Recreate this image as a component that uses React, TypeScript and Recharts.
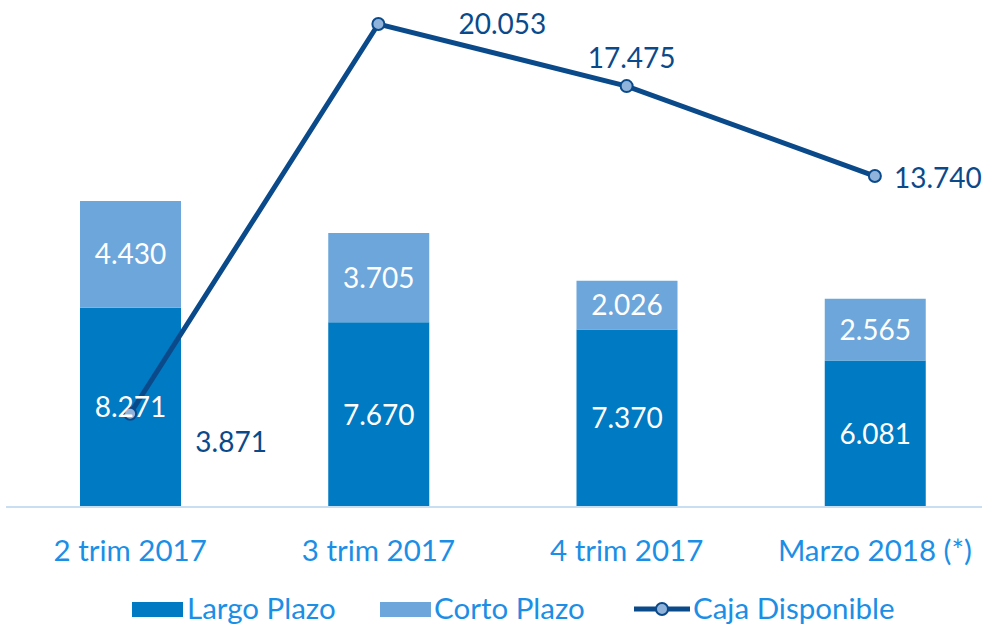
import { ComposedChart, Bar, Line, XAxis, YAxis, LabelList, Legend } from 'recharts';

const periods = ['2 trim 2017', '3 trim 2017', '4 trim 2017', 'Marzo 2018 (*)'];
const largoPlazo = [8271, 7670, 7370, 6081];
const cortoPlazo = [4430, 3705, 2026, 2565];
const cajaDisponible = [3871, 20053, 17475, 13740];

const data = periods.map((name, i) => ({
  name,
  largo: largoPlazo[i],
  corto: cortoPlazo[i],
  caja: cajaDisponible[i],
}));

// where the line labels sit relative to their point
const lineLabelOffsets = [
  { dx: 101, dy: 27 },
  { dx: 124, dy: -1 },
  { dx: 5, dy: -29 },
  { dx: 63, dy: 1 },
];

const DARK = '#0B4A8A';
const LARGO = '#007AC2';
const CORTO = '#6DA6DB';
const TICK = '#1B8FE6';
const FONT = 'Lato, "Open Sans", sans-serif';

const fmt = (v: number) => {
  const s = String(Math.round(v));
  return s.replace(/\B(?=(\d{3})+(?!\d))/g, '.');
};

const LineLabel = (props: any) => {
  const { x, y, value, index } = props;
  const o = lineLabelOffsets[index] || { dx: 0, dy: -20 };
  return (
    <text
      x={x + o.dx}
      y={y + o.dy}
      textAnchor="middle"
      dominantBaseline="central"
      fill={DARK}
      fontSize={28}
      fontFamily={FONT}
    >
      {fmt(value)}
    </text>
  );
};

const LegendContent = () => {
  const textStyle = { position: 'absolute' as const, top: 15, fontSize: 29.5, color: TICK, fontFamily: FONT, lineHeight: '32px' };
  return (
    <div style={{ position: 'relative', width: 1000, height: 49 }}>
      <div style={{ position: 'absolute', left: 132, top: 25, width: 51, height: 15, background: LARGO }} />
      <span style={{ ...textStyle, left: 187 }}>Largo Plazo</span>
      <div style={{ position: 'absolute', left: 380, top: 25, width: 51, height: 15, background: CORTO }} />
      <span style={{ ...textStyle, left: 434 }}>Corto Plazo</span>
      <svg style={{ position: 'absolute', left: 632, top: 22 }} width={60} height={20}>
        <line x1={2} y1={10} x2={58} y2={10} stroke={DARK} strokeWidth={5} />
        <circle cx={30} cy={10} r={6} fill="#8FB3DA" stroke={DARK} strokeWidth={2} />
      </svg>
      <span style={{ ...textStyle, left: 693 }}>Caja Disponible</span>
    </div>
  );
};

export default function App() {
  return (
    <div style={{ width: 982, height: 626, overflow: 'hidden', position: 'relative', background: '#fff' }}>
      <style>{'body{margin:0}'}</style>
      <ComposedChart
        width={1000}
        height={626}
        data={data}
        margin={{ top: 0, right: 1, bottom: 0, left: 6 }}
        barSize={101}
      >
        <XAxis
          dataKey="name"
          axisLine={{ stroke: '#C9DEF1', strokeWidth: 2 }}
          tickLine={false}
          height={70}
          tickMargin={27}
          interval={0}
          tick={{ fill: TICK, fontSize: 29.5, fontFamily: FONT }}
        />
        <YAxis hide domain={[0, 21050]} />
        <Legend verticalAlign="bottom" height={49} content={<LegendContent />} wrapperStyle={{ left: 0, width: 1000 }} />
        <Bar dataKey="largo" stackId="a" fill={LARGO} isAnimationActive={false} name="Largo Plazo">
          <LabelList dataKey="largo" position="center" fill="#fff" fontSize={28} fontFamily={FONT} formatter={(v: any) => fmt(Number(v))} />
        </Bar>
        <Bar dataKey="corto" stackId="a" fill={CORTO} isAnimationActive={false} name="Corto Plazo">
          <LabelList dataKey="corto" position="center" fill="#fff" fontSize={28} fontFamily={FONT} formatter={(v: any) => fmt(Number(v))} />
        </Bar>
        <Line
          dataKey="caja"
          name="Caja Disponible"
          stroke={DARK}
          strokeWidth={5}
          dot={{ r: 6, fill: '#8FB3DA', stroke: DARK, strokeWidth: 2 }}
          isAnimationActive={false}
        >
          <LabelList dataKey="caja" content={<LineLabel />} />
        </Line>
      </ComposedChart>
    </div>
  );
}
